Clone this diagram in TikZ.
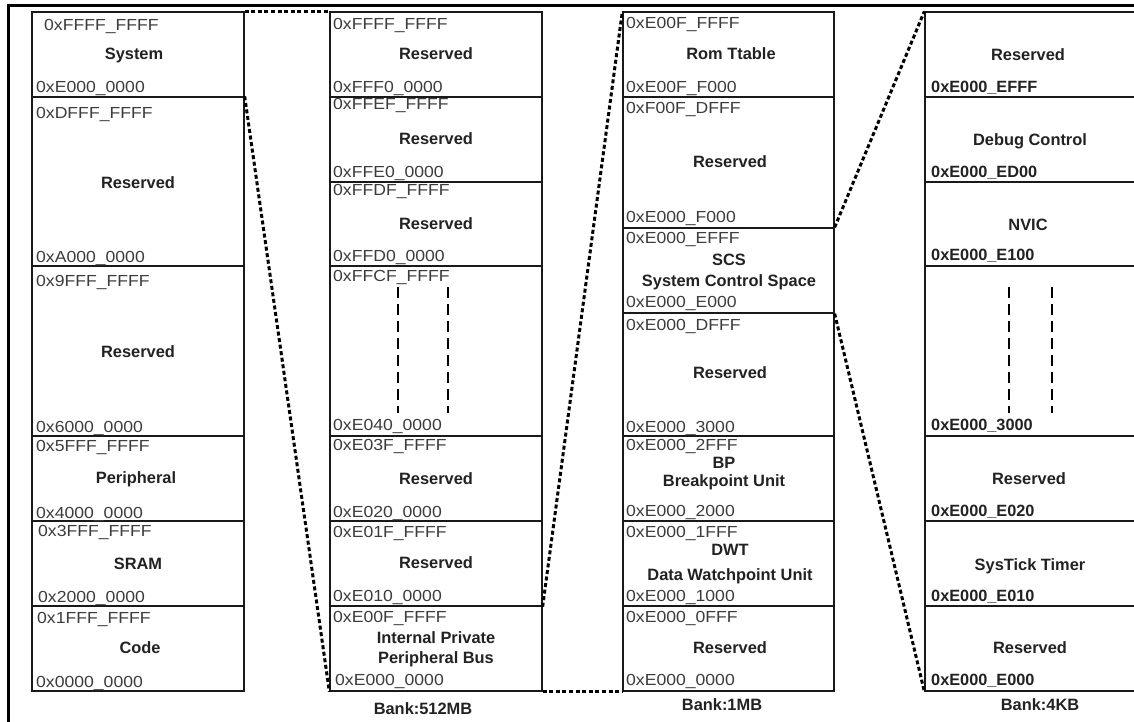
\documentclass[tikz,border=0pt]{standalone}
\usepackage{fontspec}
\setmainfont{Liberation Sans}
\newfontfamily\addrfont[FakeStretch=1.1]{Liberation Sans}
\usetikzlibrary{fit}
\definecolor{addrc}{HTML}{3C3C3C}
\definecolor{namec}{HTML}{222222}
\tikzset{
  blk/.style={draw=black!90, line width=1.3pt, inner sep=0pt, rectangle},
  addr/.style={anchor=west, inner sep=0pt, text=addrc, text height=11.5pt, text depth=0pt,
    font=\addrfont\fontsize{16}{19}\selectfont},
  addrb/.style={addr, text=namec, font=\fontsize{16.3}{19}\selectfont\bfseries},
  nm/.style={inner sep=0pt, text=namec, text height=11.5pt, text depth=0pt,
    font=\fontsize{16.4}{19}\selectfont\bfseries},
  dotline/.style={line width=3pt, dash pattern=on 4pt off 2.6pt},
  vdash/.style={line width=2.5pt, dash pattern=on 11pt off 6pt},
  frameline/.style={line width=2.2pt}
}
\begin{document}
\begin{tikzpicture}[x=1pt,y=-1pt]
\useasboundingbox (0,0) rectangle (1134,722);
\clip (0,0) rectangle (1134,722);
\fill[white] (0,0) rectangle (1134,722);
% outer frame
\coordinate (fbl) at (8.5,740);
\coordinate (ftl) at (8.5,5.5);
\coordinate (ftr) at (1150,5.5);
\draw[frameline] (fbl) -- (ftl) -- (ftr);

% ---------- column 1 ----------
\node[blk, fit={(32,12) (244,97)}] (a1) {};
\node[blk, fit={(32,97) (244,266)}] (a2) {};
\node[blk, fit={(32,266) (244,436)}] (a3) {};
\node[blk, fit={(32,436) (244,521)}] (a4) {};
\node[blk, fit={(32,521) (244,606)}] (a5) {};
\node[blk, fit={(32,606) (244,691)}] (a6) {};

\node[addr] (a1t) at (44,25) {0xFFFF\_FFFF};
\node[nm] (a1n) at (134,54) {System};
\node[addr] (a1b) at (36,87) {0xE000\_0000};
\node[addr] (a2t) at (36,113) {0xDFFF\_FFFF};
\node[nm] (a2n) at (138,183) {Reserved};
\node[addr] (a2b) at (36,257) {0xA000\_0000};
\node[addr] (a3t) at (36,281) {0x9FFF\_FFFF};
\node[nm] (a3n) at (138,352) {Reserved};
\node[addr] (a3b) at (36,427) {0x6000\_0000};
\node[addr] (a4t) at (36,446) {0x5FFF\_FFFF};
\node[nm] (a4n) at (136,478) {Peripheral};
\node[addr] (a4b) at (36,513) {0x4000\_0000};
\node[addr] (a5t) at (38,531) {0x3FFF\_FFFF};
\node[nm] (a5n) at (138,564) {SRAM};
\node[addr] (a5b) at (38,597) {0x2000\_0000};
\node[addr] (a6t) at (37,618) {0x1FFF\_FFFF};
\node[nm] (a6n) at (140,648) {Code};
\node[addr] (a6b) at (36,682) {0x0000\_0000};

% ---------- column 2 ----------
\node[blk, fit={(330,12) (542,97)}] (b1) {};
\node[blk, fit={(330,97) (542,182)}] (b2) {};
\node[blk, fit={(330,182) (542,266)}] (b3) {};
\node[blk, fit={(330,266) (542,436)}] (b4) {};
\node[blk, fit={(330,436) (542,521)}] (b5) {};
\node[blk, fit={(330,521) (542,606)}] (b6) {};
\node[blk, fit={(330,606) (542,691)}] (b7) {};

\node[addr] (b1t) at (333,24) {0xFFFF\_FFFF};
\node[nm] (b1n) at (436,54) {Reserved};
\node[addr] (b1b) at (333,87) {0xFFF0\_0000};
\node[addr] (b2t) at (333,104) {0xFFEF\_FFFF};
\node[nm] (b2n) at (436,139) {Reserved};
\node[addr] (b2b) at (333,172) {0xFFE0\_0000};
\node[addr] (b3t) at (333,190) {0xFFDF\_FFFF};
\node[nm] (b3n) at (436,224) {Reserved};
\node[addr] (b3b) at (333,256) {0xFFD0\_0000};
\node[addr] (b4t) at (333,276) {0xFFCF\_FFFF};
\node[addr] (b4b) at (333,425) {0xE040\_0000};
\node[addr] (b5t) at (333,445) {0xE03F\_FFFF};
\node[nm] (b5n) at (436,479) {Reserved};
\node[addr] (b5b) at (333,512) {0xE020\_0000};
\node[addr] (b6t) at (333,532) {0xE01F\_FFFF};
\node[nm] (b6n) at (436,563) {Reserved};
\node[addr] (b6b) at (333,596) {0xE010\_0000};
\node[addr] (b7t) at (333,617) {0xE00F\_FFFF};
\node[nm] (b7n) at (436,638) {Internal Private};
\node[nm] (b7m) at (436,658) {Peripheral Bus};
\node[addr] (b7b) at (335,680) {0xE000\_0000};
\node[nm] (bank1) at (423,709) {Bank:512MB};

\coordinate (v1a) at (398,287); \coordinate (v1b) at (398,413);
\coordinate (v2a) at (448,287); \coordinate (v2b) at (448,413);
\draw[vdash] (v1a) -- (v1b);
\draw[vdash] (v2a) -- (v2b);

% ---------- column 3 ----------
\node[blk, fit={(623,12) (834,97)}] (c1) {};
\node[blk, fit={(623,97) (834,228)}] (c2) {};
\node[blk, fit={(623,228) (834,313)}] (c3) {};
\node[blk, fit={(623,313) (834,436)}] (c4) {};
\node[blk, fit={(623,436) (834,521)}] (c5) {};
\node[blk, fit={(623,521) (834,606)}] (c6) {};
\node[blk, fit={(623,606) (834,691)}] (c7) {};

\node[addr] (c1t) at (626,23) {0xE00F\_FFFF};
\node[nm] (c1n) at (731,54) {Rom Ttable};
\node[addr] (c1b) at (626,87) {0xE00F\_F000};
\node[addr] (c2t) at (626,108) {0xF00F\_DFFF};
\node[nm] (c2n) at (730,162) {Reserved};
\node[addr] (c2b) at (626,217) {0xE000\_F000};
\node[addr] (c3t) at (626,238) {0xE000\_EFFF};
\node[nm] (c3n) at (729,260) {SCS};
\node[nm] (c3m) at (729,281) {System Control Space};
\node[addr] (c3b) at (626,302) {0xE000\_E000};
\node[addr] (c4t) at (626,325) {0xE000\_DFFF};
\node[nm] (c4n) at (730,373) {Reserved};
\node[addr] (c4b) at (626,427) {0xE000\_3000};
\node[addr] (c5t) at (626,445) {0xE000\_2FFF};
\node[nm] (c5n) at (724,463) {BP};
\node[nm] (c5m) at (724,481) {Breakpoint Unit};
\node[addr] (c5b) at (626,511) {0xE000\_2000};
\node[addr] (c6t) at (626,532) {0xE000\_1FFF};
\node[nm] (c6n) at (730,550) {DWT};
\node[nm] (c6m) at (730,575) {Data Watchpoint Unit};
\node[addr] (c6b) at (626,596) {0xE000\_1000};
\node[addr] (c7t) at (626,617) {0xE000\_0FFF};
\node[nm] (c7n) at (730,648) {Reserved};
\node[addr] (c7b) at (626,680) {0xE000\_0000};
\node[nm] (bank2) at (722,705) {Bank:1MB};

% ---------- column 4 ----------
\node[blk, fit={(925,12) (1137,97)}] (d1) {};
\node[blk, fit={(925,97) (1137,182)}] (d2) {};
\node[blk, fit={(925,182) (1137,266)}] (d3) {};
\node[blk, fit={(925,266) (1137,436)}] (d4) {};
\node[blk, fit={(925,436) (1137,521)}] (d5) {};
\node[blk, fit={(925,521) (1137,606)}] (d6) {};
\node[blk, fit={(925,606) (1137,691)}] (d7) {};

\node[nm] (d1n) at (1028,55) {Reserved};
\node[addrb] (d1b) at (931,87) {0xE000\_EFFF};
\node[nm] (d2n) at (1030,140) {Debug Control};
\node[addrb] (d2b) at (931,172) {0xE000\_ED00};
\node[nm] (d3n) at (1028,225) {NVIC};
\node[addrb] (d3b) at (931,255) {0xE000\_E100};
\node[addrb] (d4b) at (931,425) {0xE000\_3000};
\node[nm] (d5n) at (1029,479) {Reserved};
\node[addrb] (d5b) at (931,511) {0xE000\_E020};
\node[nm] (d6n) at (1030,565) {SysTick Timer};
\node[addrb] (d6b) at (931,596) {0xE000\_E010};
\node[nm] (d7n) at (1030,648) {Reserved};
\node[addrb] (d7b) at (931,680) {0xE000\_E000};
\node[nm] (bank3) at (1040,705) {Bank:4KB};

\coordinate (v3a) at (1009,287); \coordinate (v3b) at (1009,413);
\coordinate (v4a) at (1052,287); \coordinate (v4b) at (1052,413);
\draw[vdash] (v3a) -- (v3b);
\draw[vdash] (v4a) -- (v4b);

% ---------- zoom connectors ----------
\draw[dotline] (a1.north east) -- (b1.north west);
\draw[dotline] (a2.north east) -- (b7.south west);
\draw[dotline] (b6.south east) -- (c1.north west);
\draw[dotline] (b7.south east) -- (c7.south west);
\draw[dotline] (c3.north east) -- (d1.north west);
\draw[dotline] (c3.south east) -- (d7.south west);
\end{tikzpicture}
\end{document}
